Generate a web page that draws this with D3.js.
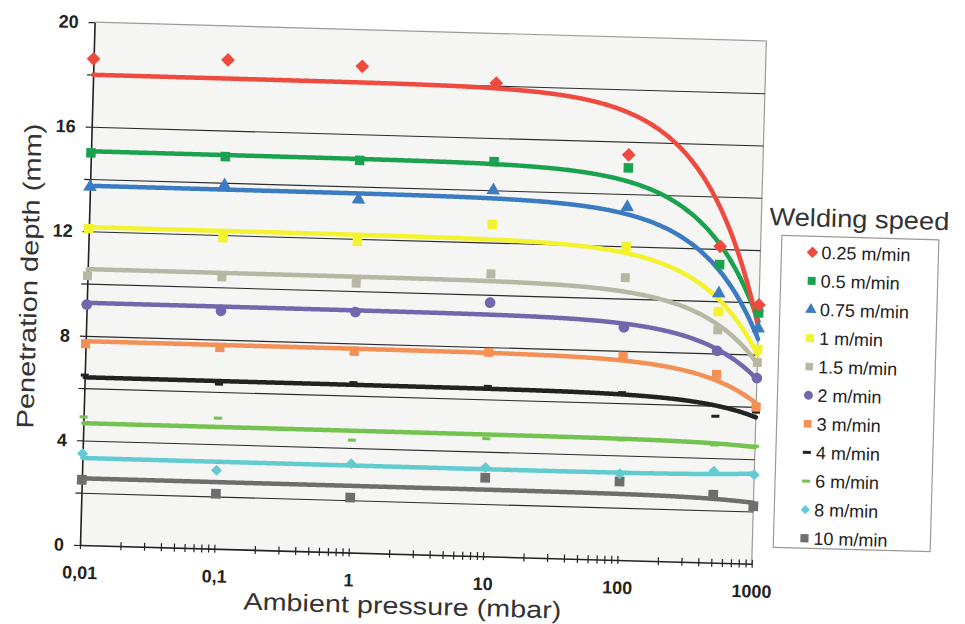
<!DOCTYPE html>
<html>
<head>
<meta charset="utf-8">
<script src="https://cdn.jsdelivr.net/npm/d3@7"></script>
<style>
  body { margin: 0; background: #fff; }
  text { font-family: Arial, "Liberation Sans", sans-serif; }
</style>
</head>
<body>
<div id="chart"></div>
<script>

// data
var pressures = [0.01, 0.1, 1, 10, 100, 500, 1000];
var speeds = ["0.25 m/min", "0.5 m/min", "0.75 m/min", "1 m/min", "1.5 m/min", "2 m/min",
              "3 m/min", "4 m/min", "6 m/min", "8 m/min", "10 m/min"];
var depth025 = [18.6, 18.7, 18.6, 18.1, 15.5, 12.1, 9.9];
var depth05  = [15.0, 15.0, 15.0, 15.1, 15.0, 11.4, 9.6];
var depth075 = [13.7, 13.9, 13.5, 14.0, 13.5, 10.3, 9.0];
var depth1   = [12.1, 11.9, 11.9, 12.7, 12.0, 9.6, 8.2];
var depth15  = [10.3, 10.4, 10.3, 10.8, 10.8, 8.9, 7.7];
var depth2   = [9.2, 9.1, 9.2, 9.7, 8.9, 8.1, 7.1];
var depth3   = [7.7, 7.7, 7.7, 7.8, 7.8, 7.2, 6.0];
var depth4   = [6.5, 6.3, 6.5, 6.5, 6.4, 5.6, 5.8];
var depth6   = [4.9, 5.0, 4.3, 4.5, 4.6, 4.5, 4.5];
var depth8   = [3.5, 3.0, 3.4, 3.4, 3.3, 3.5, 3.4];
var depth10  = [2.5, 2.1, 2.1, 3.0, 3.0, 2.6, 2.2];
var depths = [depth025, depth05, depth075, depth1, depth15, depth2, depth3, depth4, depth6, depth8, depth10];

var decades = [0.01, 0.1, 1, 10, 100, 1000];
var xTickLabels = ["0,01", "0,1", "1", "10", "100", "1000"];
var yTicks = [0, 2, 4, 6, 8, 10, 12, 14, 16, 18, 20];
var yTickLabels = ["0", "", "4", "", "8", "", "12", "", "16", "", "20"];

var colors = ["#ee4a3e", "#1aa24f", "#3b7bc2", "#f3f22e", "#b6b8a3", "#7366ad",
              "#f29055", "#222222", "#74c250", "#62cbd0", "#6e6e6e"];

// svg params
var svgWidth = 965;
var svgHeight = 624;
var margin = { top: 22, right: 213, bottom: 79, left: 80 };
var chartWidth = svgWidth - margin.left - margin.right;
var chartHeight = svgHeight - margin.top - margin.bottom;

var svg = d3.select("#chart")
  .append("svg")
  .attr("width", svgWidth)
  .attr("height", svgHeight);

// the scanned page is a little tilted
var page = svg.append("g")
  .attr("transform", `rotate(1.6, ${margin.left}, ${margin.top + chartHeight})`);

var chartGroup = page.append("g")
  .attr("transform", `translate(${margin.left}, ${margin.top})`);

var xScale = d3.scaleLog()
  .domain([0.01, 1000])
  .range([0, chartWidth]);

var yScale = d3.scaleLinear()
  .domain([0, 20])
  .range([chartHeight, 0]);

// plot area
chartGroup.append("rect")
  .attr("width", chartWidth)
  .attr("height", chartHeight)
  .attr("fill", "#f5f5f4");

chartGroup.append("path")
  .attr("d", `M0,0H${chartWidth}V${chartHeight}`)
  .attr("fill", "none")
  .attr("stroke", "#9a9a9a")
  .attr("stroke-width", 1.2);

// gridlines
var grid = chartGroup.append("g")
  .call(d3.axisLeft(yScale).tickValues(yTicks.slice(1, -1)).tickSize(-chartWidth).tickFormat(""));
grid.select(".domain").remove();
grid.selectAll("line").attr("stroke", "#2a2a2a").attr("stroke-width", 1.1);

// y axis
var yAxis = chartGroup.append("g")
  .call(d3.axisLeft(yScale).tickValues(yTicks).tickSize(6).tickSizeOuter(0).tickPadding(10)
    .tickFormat((d, i) => yTickLabels[i]));
yAxis.select(".domain").attr("stroke", "#222").attr("stroke-width", 1.6);
yAxis.selectAll("line").attr("stroke", "#222").attr("stroke-width", 1.2);
yAxis.selectAll("text")
  .attr("font-size", 18).attr("font-weight", "bold").attr("fill", "#222")
  .attr("font-family", "Arial, 'Liberation Sans', sans-serif");

// x axis with minor ticks
var xTicks = [];
decades.slice(0, -1).forEach(d => {
  for (var k = 1; k < 10; k++) xTicks.push(d * k);
});
xTicks.push(1000);

var xAxis = chartGroup.append("g")
  .attr("transform", `translate(0, ${chartHeight})`)
  .call(d3.axisBottom(xScale).tickValues(xTicks).tickSize(4).tickSizeOuter(0).tickPadding(17)
    .tickFormat(d => {
      var i = decades.indexOf(d);
      return i >= 0 ? xTickLabels[i] : "";
    }));
xAxis.select(".domain").attr("stroke", "#222").attr("stroke-width", 1.6);
xAxis.selectAll("line").attr("y1", -4).attr("stroke", "#222").attr("stroke-width", 1.2);
xAxis.selectAll("text")
  .attr("font-size", 18).attr("font-weight", "bold").attr("fill", "#222")
  .attr("font-family", "Arial, 'Liberation Sans', sans-serif");

// linear trend lines (least squares in pressure), drawn on the log axis
function trend(values) {
  var mx = d3.mean(pressures), my = d3.mean(values);
  var sxy = d3.sum(pressures, (p, i) => (p - mx) * (values[i] - my));
  var sxx = d3.sum(pressures, p => (p - mx) * (p - mx));
  var b = sxy / sxx;
  var a = my - b * mx;
  return d3.range(0, chartWidth + 1, 2).map(px => {
    var p = xScale.invert(px);
    return [p, a + b * p];
  });
}

var line = d3.line()
  .x(d => xScale(d[0]))
  .y(d => yScale(d[1]))
  .curve(d3.curveMonotoneX);

d3.range(depths.length).reverse().forEach(s => {
  chartGroup.append("path")
    .datum(trend(depths[s]))
    .attr("d", line)
    .attr("fill", "none")
    .attr("stroke", colors[s])
    .attr("stroke-width", 4.5)
    .attr("stroke-linecap", "round");
});

// markers
var dash = { draw: function(ctx, size) { ctx.rect(-4, -1.5, 8, 3); } };
var diamond = { draw: function(ctx, size) {
  var r = Math.sqrt(size / 2);
  ctx.moveTo(0, -r); ctx.lineTo(r, 0); ctx.lineTo(0, r); ctx.lineTo(-r, 0); ctx.closePath();
} };
var shapes = [diamond, d3.symbolSquare, d3.symbolTriangle, d3.symbolSquare, d3.symbolSquare,
              d3.symbolCircle, d3.symbolSquare, dash, dash, diamond, d3.symbolSquare];
var sizes = [95, 90, 80, 90, 80, 90, 85, 20, 20, 60, 95];

d3.range(depths.length).reverse().forEach(s => {
  chartGroup.selectAll(".pt" + s)
    .data(depths[s]).enter()
    .append("path")
    .attr("class", "pt" + s)
    .attr("transform", (d, i) => `translate(${xScale(pressures[i])}, ${yScale(d)})`)
    .attr("d", d3.symbol().type(shapes[s]).size(sizes[s]))
    .attr("fill", colors[s]);
});

// axis titles
page.append("text")
  .attr("transform", `translate(30, ${margin.top + chartHeight / 2 - 6})  rotate(-90)`)
  .attr("text-anchor", "middle")
  .attr("font-size", 24)
  .attr("fill", "#333")
  .attr("textLength", 305)
  .attr("lengthAdjust", "spacingAndGlyphs")
  .text("Penetration depth (mm)");

page.append("text")
  .attr("x", margin.left + chartWidth / 2 - 12)
  .attr("y", 605)
  .attr("text-anchor", "middle")
  .attr("font-size", 24)
  .attr("fill", "#333")
  .attr("textLength", 318)
  .attr("lengthAdjust", "spacingAndGlyphs")
  .text("Ambient pressure (mbar)");

// legend
var legend = page.append("g");

legend.append("text")
  .attr("x", 760)
  .attr("y", 206)
  .attr("font-size", 25)
  .attr("fill", "#333")
  .attr("textLength", 180)
  .attr("lengthAdjust", "spacingAndGlyphs")
  .text("Welding speed");

legend.append("rect")
  .attr("x", 773)
  .attr("y", 216)
  .attr("width", 157)
  .attr("height", 312)
  .attr("fill", "#fff")
  .attr("stroke", "#999")
  .attr("stroke-width", 1.2);

var items = legend.selectAll(".item")
  .data(speeds).enter()
  .append("g")
  .attr("class", "item")
  .attr("transform", (d, i) => `translate(804, ${232 + i * 28.6})`);

items.append("path")
  .attr("d", (d, i) => d3.symbol().type(shapes[i]).size(sizes[i] * 0.7)())
  .attr("fill", (d, i) => colors[i]);

items.append("text")
  .attr("x", 9)
  .attr("dy", "0.35em")
  .attr("font-size", 18)
  .attr("fill", "#222")
  .text(d => d);

</script>
</body>
</html>
